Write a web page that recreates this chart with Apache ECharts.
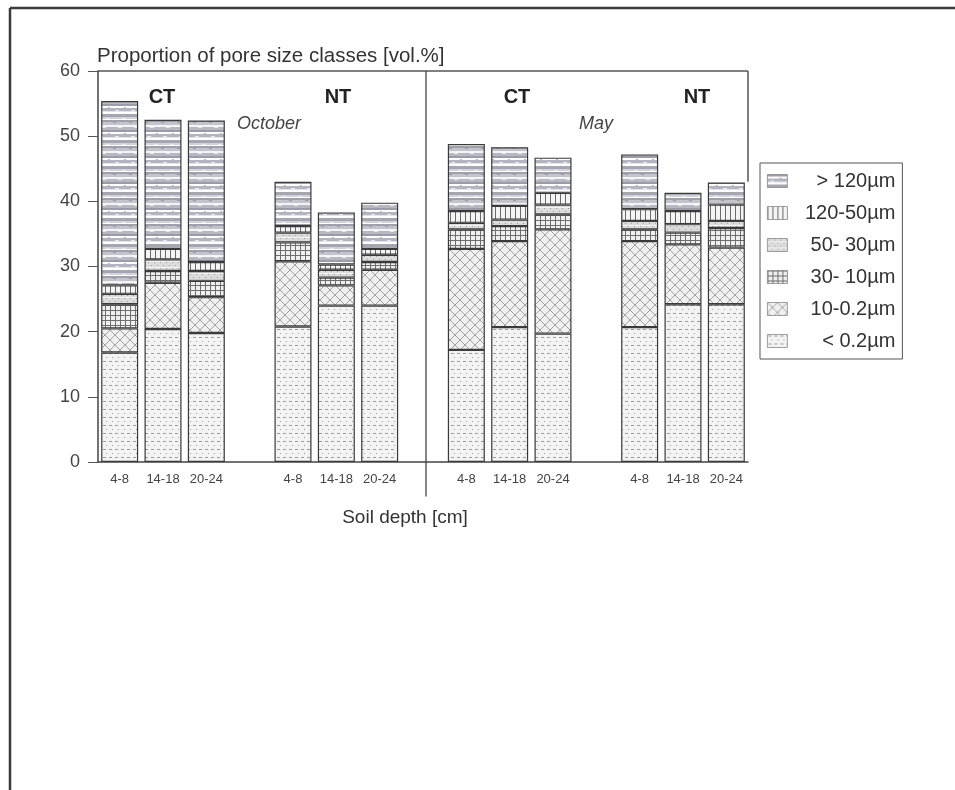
<!DOCTYPE html>
<html>
<head>
<meta charset="utf-8">
<title>Pore size classes</title>
<script src="https://cdn.jsdelivr.net/npm/echarts@6/dist/echarts.min.js"></script>
<style>
  html, body { margin: 0; padding: 0; background: #fff; }
  #chart { width: 955px; height: 790px; }
</style>
</head>
<body>
<div id="chart"></div>
<script>
// Sampling depths (cm), repeated for each tillage / season group
const depths = ['4-8', '14-18', '20-24'];
const groupCount = 4;               // CT Oct, NT Oct, CT May, NT May
const groupLabels = ['CT', 'NT', 'CT', 'NT'];
const seasonLabels = ['October', 'May'];

// Pore size classes (stacked bottom to top) and their share [vol.%]
// order within each array: CT Oct, NT Oct, CT May, NT May (3 depths each)
const classNames = ['< 0.2µm', '10-0.2µm', '30- 10µm', '50- 30µm', '120-50µm', '> 120µm'];
const lt02    = [16.8, 20.4, 19.8, 20.8, 24.0, 24.0, 17.2, 20.7, 19.7, 20.7, 24.2, 24.2];
const c10to02 = [3.7, 7.1, 5.5, 10.0, 3.1, 5.5, 15.5, 13.2, 16.0, 13.2, 9.2, 8.7];
const c30to10 = [3.7, 1.8, 2.5, 2.9, 1.2, 1.2, 3.0, 2.3, 2.3, 1.8, 1.8, 3.0];
const c50to30 = [1.6, 1.8, 1.5, 1.5, 1.2, 1.1, 1.0, 1.0, 1.5, 1.3, 1.3, 1.1];
const c120to50 = [1.3, 1.6, 1.4, 1.0, 0.8, 0.9, 1.8, 2.1, 1.8, 1.8, 2.0, 2.5];
const gt120   = [28.3, 19.8, 21.7, 6.8, 8.0, 7.1, 10.3, 9.0, 5.4, 8.4, 2.8, 3.4];

// Y axis ticks
const yMin = 0, yMax = 60, yStep = 10;

// ---- category slots: 3 depths per group, an empty slot between groups ----
const slots = [];
const slotOf = [];
for (let g = 0; g < groupCount; g++) {
  for (let d = 0; d < depths.length; d++) {
    slotOf.push(slots.length);
    slots.push(depths[d]);
  }
  if (g < groupCount - 1) slots.push('');
}
function toSlots(values) {
  const out = slots.map(() => '-');
  values.forEach((v, i) => { out[slotOf[i]] = v; });
  return out;
}

// ---- hatch fills drawn on small tiles ----
function tile(w, h, draw) {
  const c = document.createElement('canvas');
  c.width = w; c.height = h;
  const ctx = c.getContext('2d');
  draw(ctx, w, h);
  return { image: c, repeat: 'repeat' };
}
const fills = {
  // coarse horizontal grey banding
  '> 120µm': tile(16, 26, (ctx, w, h) => {
    const bands = [
      [2, '#9b9ca8'], [2, '#ffffff'], [3, '#b3b4c0'], [1, '#e4e4ea'], [2, '#ffffff'],
      [3, '#a5a6b2'], [2, '#d2d2da'], [1, '#ffffff'], [2, '#9fa0ac'], [3, '#c4c4cc'],
      [2, '#f4f4f6'], [3, '#b8b8c2']
    ];
    let y = 0;
    bands.forEach(([t, col]) => { ctx.fillStyle = col; ctx.fillRect(0, y, w, t); y += t; });
    ctx.fillStyle = 'rgba(255,255,255,0.7)';
    ctx.fillRect(3, 6, 4, 1); ctx.fillRect(10, 14, 3, 1); ctx.fillRect(6, 23, 4, 1);
    ctx.fillStyle = 'rgba(110,110,125,0.5)';
    ctx.fillRect(12, 3, 2, 1); ctx.fillRect(1, 18, 3, 1);
  }),
  '120-50µm': tile(5, 6, (ctx, w, h) => {
    ctx.fillStyle = '#f4f4f4'; ctx.fillRect(0, 0, w, h);
    ctx.fillStyle = '#6a6a6a'; ctx.fillRect(0, 0, 1, h);
  }),
  '50- 30µm': tile(6, 6, (ctx, w, h) => {
    ctx.fillStyle = '#dcdcdc'; ctx.fillRect(0, 0, w, h);
    ctx.fillStyle = '#9a9a9a'; ctx.fillRect(1, 1, 1, 1); ctx.fillRect(4, 4, 1, 1);
    ctx.fillStyle = '#f4f4f4'; ctx.fillRect(0, 3, w, 1);
  }),
  '30- 10µm': tile(5, 5, (ctx, w, h) => {
    ctx.fillStyle = '#efefef'; ctx.fillRect(0, 0, w, h);
    ctx.fillStyle = '#6e6e6e'; ctx.fillRect(0, 0, 1, h); ctx.fillRect(0, 0, w, 1);
  }),
  '10-0.2µm': tile(10, 10, (ctx, w, h) => {
    ctx.fillStyle = '#f0f0f0'; ctx.fillRect(0, 0, w, h);
    ctx.strokeStyle = '#8e8e8e'; ctx.lineWidth = 0.8;
    ctx.beginPath();
    ctx.moveTo(0, 0); ctx.lineTo(w, h);
    ctx.moveTo(w, 0); ctx.lineTo(0, h);
    ctx.stroke();
  }),
  '< 0.2µm': tile(12, 8, (ctx, w, h) => {
    ctx.fillStyle = '#f3f3f3'; ctx.fillRect(0, 0, w, h);
    ctx.fillStyle = '#9a9a9a';
    ctx.fillRect(1, 1, 3, 1); ctx.fillRect(7, 1, 3, 1);
    ctx.fillRect(4, 5, 1, 1); ctx.fillRect(10, 5, 1, 1);
  })
};

const classData = [lt02, c10to02, c30to10, c50to30, c120to50, gt120];

const series = classNames.map((name, i) => ({
  name: name,
  type: 'bar',
  stack: 'pores',
  barWidth: 37,
  data: toSlots(classData[i]),
  itemStyle: { color: fills[name], borderColor: '#3a3a3a', borderWidth: 1.2 },
  emphasis: { disabled: true },
  animation: false
}));

const chart = echarts.init(document.getElementById('chart'), null, { renderer: 'canvas' });
const FONT = "'Liberation Sans', Arial, sans-serif";

chart.setOption({
  animation: false,
  textStyle: { fontFamily: FONT },
  grid: { left: 98, right: 207, top: 71, bottom: 328, containLabel: false },
  xAxis: {
    type: 'category',
    data: slots,
    axisLine: { lineStyle: { color: '#444', width: 1.5 } },
    axisTick: { show: false },
    axisLabel: { color: '#444', fontSize: 13, margin: 11, interval: 0, fontFamily: FONT }
  },
  yAxis: {
    type: 'value',
    min: yMin, max: yMax, interval: yStep,
    axisLine: { show: true, lineStyle: { color: '#444', width: 1.5 } },
    axisTick: { show: true, length: 10, lineStyle: { color: '#555', width: 1 } },
    axisLabel: { color: '#444', fontSize: 18, margin: 18, fontFamily: FONT },
    splitLine: { show: false }
  },
  legend: {
    orient: 'vertical',
    left: 760, top: 163,
    data: classNames.slice().reverse().map(n => ({ name: n, icon: 'rect' })),
    itemWidth: 20, itemHeight: 13, itemGap: 12,
    itemStyle: { borderColor: '#888', borderWidth: 0.8 },
    padding: [8, 7, 8, 7],
    borderColor: '#555', borderWidth: 1,
    selectedMode: false,
    formatter: name => '{t|' + name + '}',
    textStyle: {
      rich: { t: { width: 103, align: 'right', fontSize: 20, color: '#333', lineHeight: 21, fontFamily: FONT } }
    }
  },
  series: series
});

// ---- frame lines, separator and annotation text tied to the axes ----
function px(slot, v) { return chart.convertToPixel({ gridIndex: 0 }, [slot, v]); }
const topLeft = px(0, yMax);
const gridRight = 955 - 207;
const sep = px(7, yMax);
const sepBottom = px(7, -5.3);
const rightEnd = px(14, 43);

chart.setOption({
  graphic: [
    // page border (top and left edges)
    { type: 'line', shape: { x1: 10, y1: 8, x2: 955, y2: 8 }, style: { stroke: '#3a3a3a', lineWidth: 2.5 } },
    { type: 'line', shape: { x1: 10, y1: 8, x2: 10, y2: 790 }, style: { stroke: '#3a3a3a', lineWidth: 2.5 } },
    // plot frame: top edge and upper part of the right edge
    { type: 'line', shape: { x1: 98, y1: topLeft[1], x2: gridRight, y2: topLeft[1] }, style: { stroke: '#555', lineWidth: 1.5 } },
    { type: 'line', shape: { x1: gridRight, y1: topLeft[1], x2: gridRight, y2: rightEnd[1] }, style: { stroke: '#555', lineWidth: 1.5 } },
    // October / May separator
    { type: 'line', shape: { x1: sep[0] + 3, y1: sep[1], x2: sep[0] + 3, y2: sepBottom[1] }, style: { stroke: '#444', lineWidth: 1.3 } },
    // y axis title
    { type: 'text', left: 97, top: 46, style: { text: 'Proportion of pore size classes [vol.%]', font: "20.5px " + FONT, fill: '#333' } },
    // x axis title
    { type: 'text', x: 405, y: 518, style: { text: 'Soil depth [cm]', font: "19px " + FONT, fill: '#333', align: 'center', verticalAlign: 'middle' } },
    // tillage labels
    ...groupLabels.map((t, i) => ({
      type: 'text', x: [162, 338, 517, 697][i], y: 97,
      style: { text: t, font: "bold 20px " + FONT, fill: '#222', align: 'center', verticalAlign: 'middle' }
    })),
    // season labels
    { type: 'text', x: 269, y: 124, style: { text: seasonLabels[0], font: "italic 18px " + FONT, fill: '#444', align: 'center', verticalAlign: 'middle' } },
    { type: 'text', x: 596, y: 124, style: { text: seasonLabels[1], font: "italic 18px " + FONT, fill: '#444', align: 'center', verticalAlign: 'middle' } }
  ]
});
</script>
</body>
</html>
